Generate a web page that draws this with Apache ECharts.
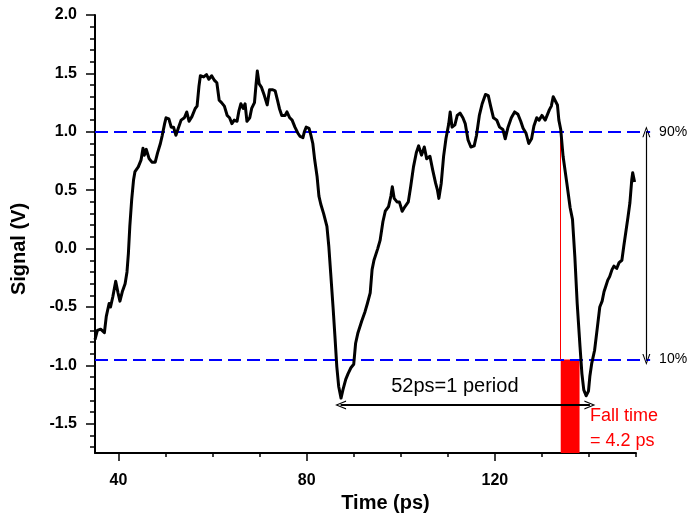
<!DOCTYPE html>
<html>
<head>
<meta charset="utf-8">
<script src="https://cdn.jsdelivr.net/npm/echarts@6/dist/echarts.min.js"></script>
<style>
  html, body { margin: 0; padding: 0; background: #fff; }
  #main { width: 690px; height: 528px; }
</style>
</head>
<body>
<div id="main"></div>
<script>
// 信号波形 (time in ps, signal in V)
var timePs = [35.0, 35.5, 36.2, 37.0, 37.4, 38.0, 38.3, 38.8, 39.4, 39.9, 40.3, 40.8, 41.4, 41.8, 42.1, 42.4, 42.8, 43.2, 43.5, 44.2,
  44.8, 45.2, 45.5, 45.9, 46.5, 47.1, 47.8, 48.3, 48.9, 49.3, 49.8, 50.1, 50.7, 51.2, 51.7, 52.2, 52.7, 53.3, 54.0, 54.5,
  55.0, 55.6, 56.3, 56.7, 57.1, 57.4, 58.1, 58.7, 59.2, 59.8, 60.4, 60.9, 61.4, 61.9, 62.5, 63.1, 63.6, 64.1, 64.6, 65.2,
  65.6, 66.0, 66.5, 66.9, 67.3, 67.9, 68.3, 68.9, 69.2, 69.5, 69.9, 70.4, 71.0, 71.6, 72.1, 72.8, 73.3, 73.8, 74.2, 74.7,
  75.4, 75.8, 76.4, 76.9, 77.5, 78.1, 78.6, 79.2, 79.5, 79.9, 80.5, 80.9, 81.3, 81.7, 82.2, 82.6, 83.0, 83.6,
  84.3, 84.7, 85.1, 85.6, 86.0, 86.4, 86.8, 87.3, 87.7, 88.3, 88.8, 89.4, 90.0, 90.4, 90.9, 91.7, 92.4, 92.9, 93.5, 93.9,
  94.3, 95.1, 95.6, 96.2, 96.7, 97.4, 97.9, 98.2, 98.6, 99.2, 99.7, 100.3, 100.9, 101.6, 102.1, 102.7, 103.3, 103.8, 104.4, 105.0,
  105.5, 106.2, 106.8, 107.4, 107.8, 108.1, 108.6, 109.1, 109.6, 110.2, 110.5, 110.9, 111.5, 112.0, 112.6, 113.2, 113.7, 114.3, 114.9, 115.6,
  116.1, 116.7, 117.3, 118.0, 118.6, 119.1, 119.7, 120.4, 121.0, 121.7, 122.2, 122.8, 123.5, 124.2, 124.9, 125.5, 126.0, 126.6, 127.2, 127.8,
  128.3, 128.9, 129.4, 130.0, 130.7, 131.6, 132.0, 132.4, 132.8, 133.3, 133.6, 134.0, 134.5, 135.3, 136.0, 136.5, 137.0, 137.5, 138.1, 138.5,
  138.9, 139.4, 139.9, 140.2, 140.6, 141.2, 141.8, 142.3, 142.8, 143.2, 143.6, 144.0, 144.4, 144.9, 145.3, 145.9, 146.4, 147.0, 147.4, 147.9,
  148.3, 148.7, 149.1, 149.3, 149.7];
var signalV = [-0.78, -0.70, -0.69, -0.72, -0.58, -0.47, -0.50, -0.41, -0.28, -0.38, -0.45, -0.37, -0.30, -0.20, -0.04, 0.19, 0.42, 0.59, 0.66, 0.70,
  0.76, 0.86, 0.80, 0.85, 0.77, 0.74, 0.74, 0.82, 0.90, 0.97, 1.07, 1.12, 1.11, 1.04, 1.04, 0.97, 1.03, 1.10, 1.12, 1.17,
  1.09, 1.13, 1.20, 1.22, 1.39, 1.48, 1.47, 1.49, 1.45, 1.48, 1.44, 1.42, 1.27, 1.25, 1.22, 1.14, 1.12, 1.07, 1.10, 1.09,
  1.18, 1.24, 1.20, 1.24, 1.09, 1.12, 1.20, 1.25, 1.39, 1.52, 1.41, 1.38, 1.31, 1.23, 1.36, 1.36, 1.35, 1.27, 1.20, 1.14,
  1.14, 1.17, 1.12, 1.10, 1.04, 0.99, 0.96, 0.95, 1.00, 1.04, 1.03, 0.97, 0.90, 0.76, 0.62, 0.45, 0.38, 0.30,
  0.19, 0.02, -0.21, -0.50, -0.75, -1.01, -1.18, -1.28, -1.21, -1.12, -1.07, -1.02, -0.99, -0.81, -0.72, -0.62, -0.54, -0.47, -0.38, -0.18,
  -0.10, 0.00, 0.07, 0.23, 0.32, 0.36, 0.45, 0.53, 0.43, 0.40, 0.40, 0.32, 0.36, 0.40, 0.53, 0.70, 0.82, 0.88, 0.80, 0.87,
  0.77, 0.79, 0.67, 0.56, 0.50, 0.43, 0.56, 0.79, 0.94, 1.07, 1.17, 1.04, 1.06, 1.14, 1.16, 1.12, 1.07, 0.93, 0.87, 0.88,
  0.97, 1.14, 1.24, 1.32, 1.31, 1.22, 1.12, 1.10, 1.04, 1.02, 0.94, 1.04, 1.12, 1.17, 1.15, 1.09, 1.03, 0.99, 0.90, 0.94,
  1.05, 1.12, 1.10, 1.14, 1.10, 1.19, 1.22, 1.30, 1.29, 1.23, 1.10, 1.02, 0.79, 0.56, 0.35, 0.25, -0.07, -0.47, -0.84, -1.07,
  -1.21, -1.26, -1.22, -1.09, -0.98, -0.87, -0.67, -0.50, -0.45, -0.37, -0.32, -0.27, -0.24, -0.18, -0.15, -0.17, -0.12, -0.10, 0.02, 0.16,
  0.27, 0.39, 0.59, 0.65, 0.57];

// 刻度
var xTicks = [40, 80, 120];
var xMinorTicks = [50, 60, 70, 90, 100, 110, 130, 140, 150];
var yTicks = [-1.5, -1.0, -0.5, 0.0, 0.5, 1.0, 1.5, 2.0];
var yMinorTicks = [-1.7, -1.6, -1.4, -1.3, -1.2, -1.1, -0.9, -0.8, -0.7, -0.6, -0.4, -0.3, -0.2, -0.1,
  0.1, 0.2, 0.3, 0.4, 0.6, 0.7, 0.8, 0.9, 1.1, 1.2, 1.3, 1.4, 1.6, 1.7, 1.8, 1.9];

// 标注
var level90 = 1.0;
var level10 = -0.95;
var fallStart = 134.0;
var fallEnd = 138.0;
var periodFrom = 87.2;
var periodTo = 140.2;
var periodY = -1.34;

var FONT = '"Liberation Sans", Arial, sans-serif';
var xMin = 35, xMax = 150, xMaxOverlay = 160;
var yMin = -1.75, yMax = 2.0;
var gridLeft = 95, gridRight = 54, gridTop = 15, gridBottom = 75, W = 690;
// overlay grid keeps the same px/ps scale but reaches further right (for the 90%/10% marks)
var plotW = W - gridLeft - gridRight;
var overlayRight = W - gridLeft - plotW * (xMaxOverlay - xMin) / (xMax - xMin);

var chevron = 'path://M10,0 L20,22 L17.2,22 L10,5.5 L2.8,22 L0,22 Z';

var chart = echarts.init(document.getElementById('main'));

var curve = [];
for (var i = 0; i < timePs.length; i++) curve.push([timePs[i], signalV[i]]);

var option = {
  animation: false,
  grid: [
    { left: gridLeft, right: gridRight, top: gridTop, bottom: gridBottom },
    { left: gridLeft, right: overlayRight, top: gridTop, bottom: gridBottom }
  ],
  xAxis: [
    {
      gridIndex: 0, type: 'value', min: xMin, max: xMax, position: 'bottom',
      name: 'Time (ps)', nameLocation: 'middle', nameGap: 40,
      nameTextStyle: { fontFamily: FONT, fontWeight: 'bold', fontSize: 20, color: '#000', padding: [0, 0, 0, 40] },
      axisLine: { onZero: false, lineStyle: { color: '#000', width: 2 } },
      axisTick: { customValues: xTicks, length: 8, lineStyle: { color: '#000', width: 1.5 } },
      axisLabel: { customValues: xTicks, margin: 20, color: '#000', fontFamily: FONT, fontWeight: 'bold', fontSize: 16 },
      splitLine: { show: false }
    },
    {
      gridIndex: 0, type: 'value', min: xMin, max: xMax, position: 'bottom',
      axisLine: { show: false, onZero: false },
      axisTick: { customValues: xMinorTicks, length: 4, lineStyle: { color: '#000', width: 1.5 } },
      axisLabel: { show: false },
      splitLine: { show: false }
    },
    { gridIndex: 1, type: 'value', min: xMin, max: xMaxOverlay, show: false }
  ],
  yAxis: [
    {
      gridIndex: 0, type: 'value', min: yMin, max: yMax, position: 'left',
      name: 'Signal (V)', nameLocation: 'middle', nameGap: 66,
      nameTextStyle: { fontFamily: FONT, fontWeight: 'bold', fontSize: 20, color: '#000', padding: [0, 30, 0, 0] },
      axisLine: { onZero: false, lineStyle: { color: '#000', width: 2 } },
      axisTick: { customValues: yTicks, length: 9, lineStyle: { color: '#000', width: 1.5 } },
      axisLabel: {
        customValues: yTicks, margin: 18, color: '#000', fontFamily: FONT, fontWeight: 'bold', fontSize: 16,
        formatter: function (v) { return v.toFixed(1); }
      },
      splitLine: { show: false }
    },
    {
      gridIndex: 0, type: 'value', min: yMin, max: yMax, position: 'left',
      axisLine: { show: false, onZero: false },
      axisTick: { customValues: yMinorTicks, length: 5, lineStyle: { color: '#000', width: 1.5 } },
      axisLabel: { show: false },
      splitLine: { show: false }
    },
    { gridIndex: 1, type: 'value', min: yMin, max: yMax, show: false }
  ],
  series: [
    {
      name: 'signal',
      type: 'line',
      xAxisIndex: 0, yAxisIndex: 0,
      data: curve,
      showSymbol: false,
      symbol: 'none',
      z: 5,
      lineStyle: { color: '#000', width: 3, join: 'round' }
    },
    {
      // 注释层
      name: 'notes',
      type: 'line',
      xAxisIndex: 2, yAxisIndex: 2,
      data: [],
      z: 3,
      silent: true,
      markLine: {
        silent: true,
        animation: false,
        symbol: 'none',
        data: [
          [
            { coord: [xMin, level90], lineStyle: { color: '#0000ff', width: 2, type: [13, 6] },
              label: { show: true, position: 'end', distance: 9, formatter: '90%', color: '#000', fontFamily: FONT, fontSize: 14 } },
            { coord: [153, level90] }
          ],
          [
            { coord: [xMin, level10], lineStyle: { color: '#0000ff', width: 2, type: [13, 6] },
              label: { show: true, position: 'end', distance: 9, formatter: '10%', color: '#000', fontFamily: FONT, fontSize: 14 } },
            { coord: [153, level10] }
          ],
          [
            { coord: [fallStart, level90], lineStyle: { color: '#ff0000', width: 1, type: 'solid' }, label: { show: false } },
            { coord: [fallStart, level10] }
          ],
          [
            { coord: [152.2, level90], symbol: chevron, symbolSize: [8, 11],
              lineStyle: { color: '#000', width: 1.2, type: 'solid' }, label: { show: false } },
            { coord: [152.2, level10], symbol: chevron, symbolSize: [8, 11] }
          ],
          [
            { coord: [periodFrom, periodY], symbol: chevron, symbolSize: [9, 11],
              lineStyle: { color: '#000', width: 2, type: 'solid' }, label: { show: false } },
            { coord: [periodTo, periodY], symbol: chevron, symbolSize: [9, 11] }
          ]
        ]
      },
      markArea: {
        silent: true,
        itemStyle: { color: '#ff0000', opacity: 1 },
        data: [[{ coord: [fallStart, level10] }, { coord: [fallEnd, yMin] }]]
      },
      markPoint: {
        silent: true,
        symbol: 'circle',
        symbolSize: 0,
        data: [
          { coord: [111.5, -1.18],
            label: { show: true, position: 'inside', formatter: '52ps=1 period', color: '#000', fontFamily: FONT, fontSize: 20 } },
          { coord: [140.2, -1.54],
            label: { show: true, position: 'right', distance: 0, align: 'left', formatter: 'Fall time\n= 4.2 ps',
              color: '#ff0000', fontFamily: FONT, fontSize: 18, lineHeight: 25 } }
        ]
      }
    }
  ]
};

chart.setOption(option);
</script>
</body>
</html>
